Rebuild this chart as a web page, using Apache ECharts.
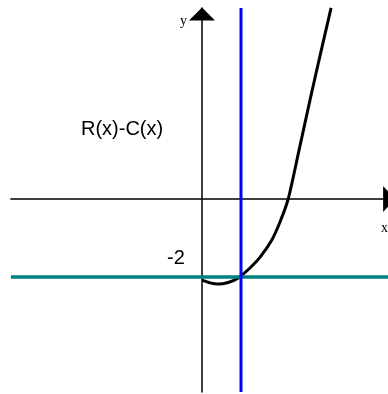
<!DOCTYPE html>
<html>
<head>
<meta charset="utf-8">
<script src="https://cdn.jsdelivr.net/npm/echarts@6/dist/echarts.min.js"></script>
<style>
    html, body { margin: 0; padding: 0; background: #fff; }
    #chart { width: 388px; height: 394px; }
</style>
</head>
<body>
<div id="chart"></div>
<script>
// profit curve R(x)-C(x)
var curveX = [0, 0.21, 0.41, 0.67, 0.92, 1.23, 1.49, 1.79, 2.0, 2.21, 2.49, 2.77, 3.03, 3.31];
var curveY = [-2.08, -2.15, -2.18, -2.14, -2.03, -1.77, -1.49, -1.05, -0.59, 0, 1.26, 2.54, 3.69, 4.9];
var xRange = [-4.9, 4.9];
var yRange = [-4.95, 4.9];
var vLineX = 1;     // blue vertical line
var hLineY = -2;    // teal horizontal line
var curveLabel = 'R(x)-C(x)';
var levelLabel = '-2';

var curveData = curveX.map(function (x, i) { return [x, curveY[i]]; });

var option = {
    animation: false,
    grid: {
        left: 10.9, top: 7.9, width: 382.2, height: 384.15,
        containLabel: false,
        outerBoundsMode: 'none'
    },
    xAxis: {
        type: 'value',
        min: xRange[0],
        max: xRange[1],
        splitLine: { show: false },
        axisTick: { show: false },
        axisLabel: { show: false },
        axisLine: {
            onZero: true,
            symbol: ['none', 'triangle'],
            symbolSize: [26, 12],
            symbolOffset: [0, -4],
            lineStyle: { color: '#000', width: 1.5 }
        }
    },
    yAxis: {
        type: 'value',
        min: yRange[0],
        max: yRange[1],
        splitLine: { show: false },
        axisTick: { show: false },
        axisLabel: { show: false },
        axisLine: {
            onZero: true,
            symbol: ['none', 'triangle'],
            symbolSize: [26, 13],
            symbolOffset: [0, -6],
            lineStyle: { color: '#000', width: 1.5 }
        }
    },
    series: [
        {
            type: 'line',
            data: curveData,
            smooth: 0.25,
            symbol: 'none',
            clip: false,
            lineStyle: { color: '#000', width: 3 }
        },
        {
            type: 'line',
            data: [[xRange[0], hLineY], [xRange[1], hLineY]],
            symbol: 'none',
            lineStyle: { color: '#008080', width: 3.5 }
        },
        {
            type: 'line',
            data: [[vLineX, yRange[0]], [vLineX, yRange[1]]],
            symbol: 'none',
            lineStyle: { color: '#0000ff', width: 3 }
        }
    ],
    graphic: [
        { type: 'text', left: 180, top: 14, style: { text: 'y', font: '14px "Liberation Serif"', fill: '#000' } },
        { type: 'text', left: 381, top: 221, style: { text: 'x', font: '14px "Liberation Serif"', fill: '#000' } },
        { type: 'text', left: 81, top: 119, style: { text: curveLabel, font: '20px "Liberation Sans"', fill: '#000' } },
        { type: 'text', left: 167, top: 248, style: { text: levelLabel, font: '20px "Liberation Sans"', fill: '#000' } }
    ]
};

var chart = echarts.init(document.getElementById('chart'));
chart.setOption(option);
</script>
</body>
</html>
